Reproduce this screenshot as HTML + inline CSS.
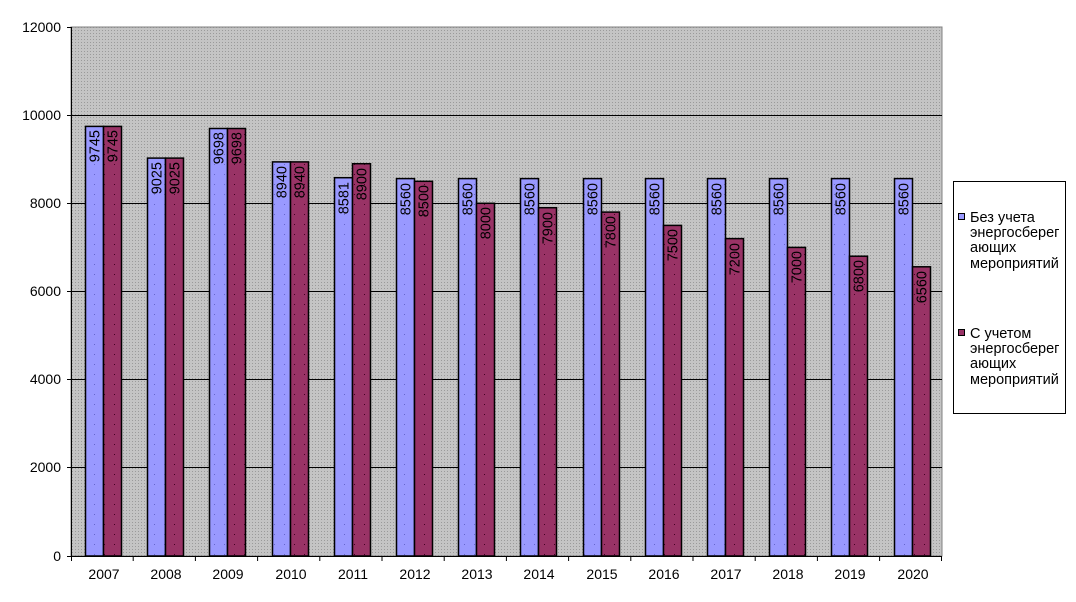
<!DOCTYPE html>
<html><head><meta charset="utf-8"><style>body{margin:0;background:#fff}svg{display:block}</style></head><body>
<svg width="1076" height="602" xmlns="http://www.w3.org/2000/svg" font-family="Liberation Sans, Arial, sans-serif">
<defs>
<pattern id="g" width="3" height="3" patternUnits="userSpaceOnUse"><rect width="3" height="3" fill="#c4c4c4"/><rect width="1" height="1" fill="#9a9a9a"/></pattern>
<pattern id="b" width="10" height="10" patternUnits="userSpaceOnUse"><rect width="10" height="10" fill="#9999ff"/><rect x="4" y="4" width="1" height="1" fill="#6666cc"/></pattern>
<pattern id="r" width="10" height="10" patternUnits="userSpaceOnUse"><rect width="10" height="10" fill="#993366"/><rect x="4" y="4" width="1" height="1" fill="#440022"/></pattern>
</defs>
<rect x="71" y="27" width="871" height="529" fill="url(#g)" stroke="#808080"/>
<g stroke="#000" stroke-width="1">
<line x1="71" y1="115.5" x2="942" y2="115.5"/><line x1="71" y1="203.5" x2="942" y2="203.5"/><line x1="71" y1="291.5" x2="942" y2="291.5"/><line x1="71" y1="379.5" x2="942" y2="379.5"/><line x1="71" y1="467.5" x2="942" y2="467.5"/>
<line x1="71.5" y1="27" x2="71.5" y2="556"/><line x1="71" y1="556.5" x2="942" y2="556.5"/>
<line x1="67" y1="27.5" x2="71" y2="27.5"/><line x1="67" y1="115.5" x2="71" y2="115.5"/><line x1="67" y1="203.5" x2="71" y2="203.5"/><line x1="67" y1="291.5" x2="71" y2="291.5"/><line x1="67" y1="379.5" x2="71" y2="379.5"/><line x1="67" y1="467.5" x2="71" y2="467.5"/><line x1="67" y1="556.5" x2="71" y2="556.5"/>
<line x1="71.5" y1="556" x2="71.5" y2="561"/><line x1="133.2" y1="556" x2="133.2" y2="561"/><line x1="195.4" y1="556" x2="195.4" y2="561"/><line x1="257.6" y1="556" x2="257.6" y2="561"/><line x1="319.8" y1="556" x2="319.8" y2="561"/><line x1="382" y1="556" x2="382" y2="561"/><line x1="444.2" y1="556" x2="444.2" y2="561"/><line x1="506.4" y1="556" x2="506.4" y2="561"/><line x1="568.6" y1="556" x2="568.6" y2="561"/><line x1="630.8" y1="556" x2="630.8" y2="561"/><line x1="693" y1="556" x2="693" y2="561"/><line x1="755.2" y1="556" x2="755.2" y2="561"/><line x1="817.4" y1="556" x2="817.4" y2="561"/><line x1="879.6" y1="556" x2="879.6" y2="561"/><line x1="941.5" y1="556" x2="941.5" y2="561"/>
</g>
<g font-size="14" text-anchor="end" fill="#000">
<text x="61" y="32">12000</text><text x="61" y="120">10000</text><text x="61" y="208">8000</text><text x="61" y="296">6000</text><text x="61" y="384">4000</text><text x="61" y="472">2000</text><text x="61" y="561">0</text>
</g>
<g stroke="#000" stroke-width="1.5">
<rect x="85.5" y="126.4" width="18" height="429.6" fill="url(#b)"/><rect x="103.5" y="126.4" width="18" height="429.6" fill="url(#r)"/>
<rect x="147.5" y="158.1" width="18" height="397.9" fill="url(#b)"/><rect x="165.5" y="158.1" width="18" height="397.9" fill="url(#r)"/>
<rect x="209.5" y="128.5" width="18" height="427.5" fill="url(#b)"/><rect x="227.5" y="128.5" width="18" height="427.5" fill="url(#r)"/>
<rect x="272.5" y="161.9" width="18" height="394.1" fill="url(#b)"/><rect x="290.5" y="161.9" width="18" height="394.1" fill="url(#r)"/>
<rect x="334.5" y="177.7" width="18" height="378.3" fill="url(#b)"/><rect x="352.5" y="163.7" width="18" height="392.3" fill="url(#r)"/>
<rect x="396.5" y="178.6" width="18" height="377.4" fill="url(#b)"/><rect x="414.5" y="181.3" width="18" height="374.7" fill="url(#r)"/>
<rect x="458.5" y="178.6" width="18" height="377.4" fill="url(#b)"/><rect x="476.5" y="203.3" width="18" height="352.7" fill="url(#r)"/>
<rect x="520.5" y="178.6" width="18" height="377.4" fill="url(#b)"/><rect x="538.5" y="207.7" width="18" height="348.3" fill="url(#r)"/>
<rect x="583.5" y="178.6" width="18" height="377.4" fill="url(#b)"/><rect x="601.5" y="212.1" width="18" height="343.9" fill="url(#r)"/>
<rect x="645.5" y="178.6" width="18" height="377.4" fill="url(#b)"/><rect x="663.5" y="225.4" width="18" height="330.6" fill="url(#r)"/>
<rect x="707.5" y="178.6" width="18" height="377.4" fill="url(#b)"/><rect x="725.5" y="238.6" width="18" height="317.4" fill="url(#r)"/>
<rect x="769.5" y="178.6" width="18" height="377.4" fill="url(#b)"/><rect x="787.5" y="247.4" width="18" height="308.6" fill="url(#r)"/>
<rect x="831.5" y="178.6" width="18" height="377.4" fill="url(#b)"/><rect x="849.5" y="256.2" width="18" height="299.8" fill="url(#r)"/>
<rect x="894.5" y="178.6" width="18" height="377.4" fill="url(#b)"/><rect x="912.5" y="266.8" width="18" height="289.2" fill="url(#r)"/>
</g>
<g font-size="14.5" text-anchor="end" fill="#000">
<text transform="translate(99.5,130) rotate(-90)">9745</text><text transform="translate(117.5,130) rotate(-90)">9745</text>
<text transform="translate(161.5,162) rotate(-90)">9025</text><text transform="translate(179.5,162) rotate(-90)">9025</text>
<text transform="translate(223.5,132) rotate(-90)">9698</text><text transform="translate(241.5,132) rotate(-90)">9698</text>
<text transform="translate(286.5,166) rotate(-90)">8940</text><text transform="translate(304.5,166) rotate(-90)">8940</text>
<text transform="translate(348.5,182) rotate(-90)">8581</text><text transform="translate(366.5,168) rotate(-90)">8900</text>
<text transform="translate(410.5,183) rotate(-90)">8560</text><text transform="translate(428.5,185) rotate(-90)">8500</text>
<text transform="translate(472.5,183) rotate(-90)">8560</text><text transform="translate(490.5,207) rotate(-90)">8000</text>
<text transform="translate(534.5,183) rotate(-90)">8560</text><text transform="translate(552.5,212) rotate(-90)">7900</text>
<text transform="translate(597.5,183) rotate(-90)">8560</text><text transform="translate(615.5,216) rotate(-90)">7800</text>
<text transform="translate(659.5,183) rotate(-90)">8560</text><text transform="translate(677.5,229) rotate(-90)">7500</text>
<text transform="translate(721.5,183) rotate(-90)">8560</text><text transform="translate(739.5,243) rotate(-90)">7200</text>
<text transform="translate(783.5,183) rotate(-90)">8560</text><text transform="translate(801.5,251) rotate(-90)">7000</text>
<text transform="translate(845.5,183) rotate(-90)">8560</text><text transform="translate(863.5,260) rotate(-90)">6800</text>
<text transform="translate(908.5,183) rotate(-90)">8560</text><text transform="translate(926.5,271) rotate(-90)">6560</text>
</g>
<g font-size="14" text-anchor="middle" fill="#000">
<text x="104" y="579">2007</text><text x="166" y="579">2008</text><text x="228" y="579">2009</text><text x="291" y="579">2010</text><text x="353" y="579">2011</text><text x="415" y="579">2012</text><text x="477" y="579">2013</text><text x="539" y="579">2014</text><text x="602" y="579">2015</text><text x="664" y="579">2016</text><text x="726" y="579">2017</text><text x="788" y="579">2018</text><text x="850" y="579">2019</text><text x="913" y="579">2020</text>
</g>
<rect x="953.5" y="181.5" width="112" height="232" fill="#fff" stroke="#000"/>
<rect x="958.5" y="213.5" width="6" height="6" fill="#9999ff" stroke="#000"/>
<rect x="958.5" y="329.5" width="6" height="6" fill="#993366" stroke="#000"/>
<g font-size="14.5" fill="#000">
<text x="970" y="222">Без учета</text><text x="970" y="237">энергосберег</text><text x="970" y="252">ающих</text><text x="970" y="268">мероприятий</text>
<text x="970" y="338">С учетом</text><text x="970" y="353">энергосберег</text><text x="970" y="368">ающих</text><text x="970" y="384">мероприятий</text>
</g>
</svg>
</body></html>
